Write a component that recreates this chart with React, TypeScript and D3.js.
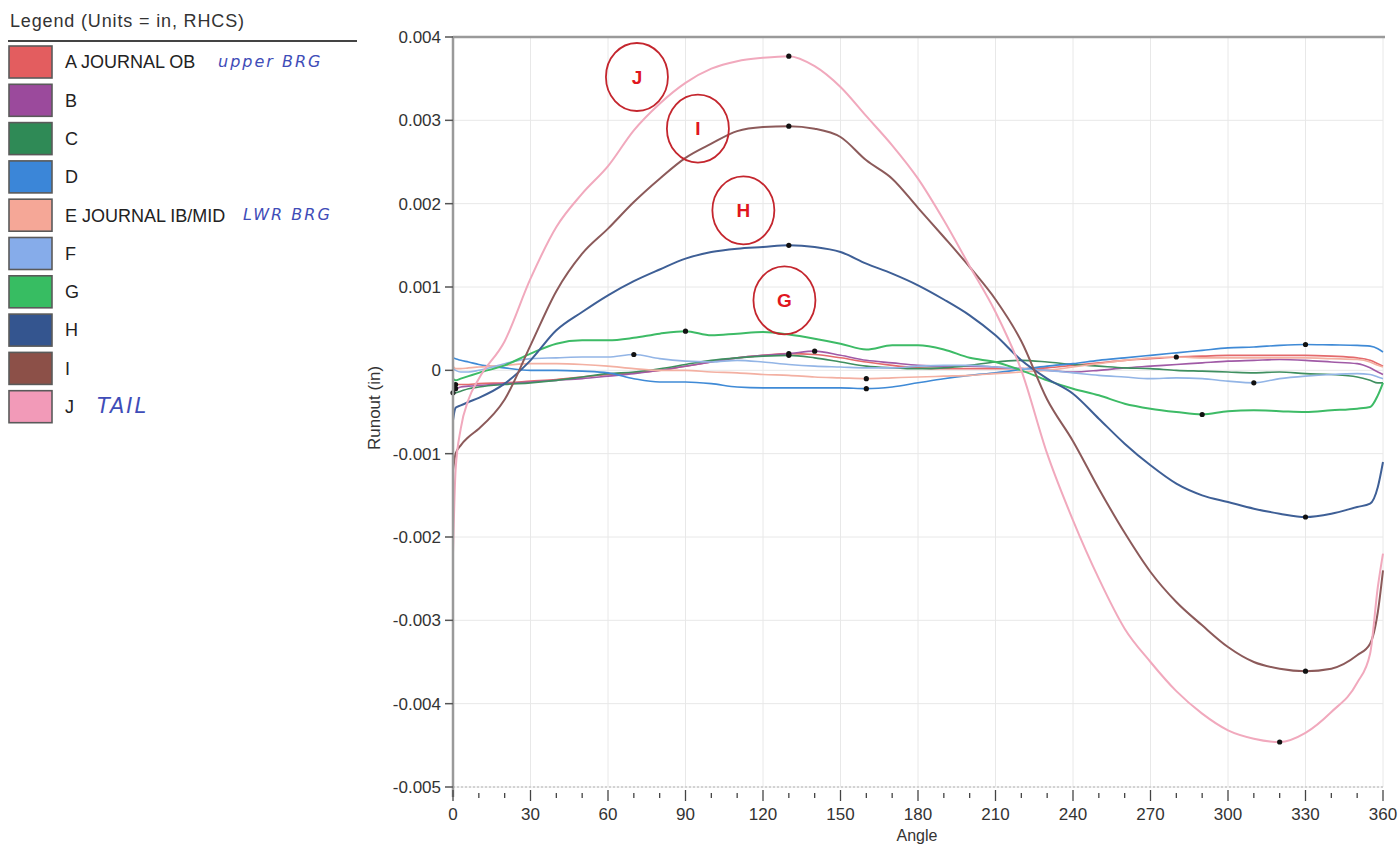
import React from 'react';
import * as d3 from 'd3';

// runout readings in thousandths of an inch (mils)
const angles = [0, 1, 3, 6, 10, 20, 30, 40, 50, 60, 70, 80, 90, 100, 110, 120, 130, 140, 150, 160, 170, 180,
  190, 200, 210, 220, 230, 240, 250, 260, 270, 280, 290, 300, 310, 320, 330, 340, 350, 355, 358, 360];

const seriesA = [-0.15, -0.17, -0.17, -0.17, -0.16, -0.15, -0.13, -0.11, -0.08, -0.05, -0.03, 0.0, 0.05, 0.1, 0.15, 0.18, 0.2, 0.19, 0.15, 0.1, 0.06, 0.03,
  0.02, 0.02, 0.02, 0.02, 0.03, 0.06, 0.09, 0.12, 0.14, 0.16, 0.17, 0.18, 0.18, 0.18, 0.18, 0.17, 0.15, 0.12, 0.08, 0.05];
const seriesB = [-0.2, -0.22, -0.2, -0.19, -0.18, -0.16, -0.14, -0.12, -0.1, -0.07, -0.04, 0.0, 0.05, 0.1, 0.15, 0.18, 0.2, 0.23, 0.18, 0.12, 0.09, 0.06,
  0.05, 0.05, 0.04, 0.02, 0.0, -0.02, 0.0, 0.03, 0.05, 0.07, 0.09, 0.11, 0.12, 0.13, 0.12, 0.1, 0.08, 0.03, -0.02, -0.05];
const seriesC = [-0.27, -0.27, -0.25, -0.22, -0.2, -0.17, -0.15, -0.12, -0.08, -0.04, -0.02, 0.02, 0.07, 0.12, 0.15, 0.17, 0.18, 0.15, 0.1, 0.05, 0.03, 0.02,
  0.03, 0.06, 0.1, 0.12, 0.1, 0.07, 0.05, 0.03, 0.02, 0.0, -0.01, -0.02, -0.03, -0.02, -0.04, -0.05, -0.08, -0.12, -0.15, -0.15];
const seriesD = [0.15, 0.14, 0.12, 0.1, 0.07, 0.03, 0.0, 0.0, -0.01, -0.03, -0.1, -0.14, -0.14, -0.16, -0.2, -0.21, -0.21, -0.21, -0.21, -0.22, -0.2, -0.15,
  -0.1, -0.06, -0.03, 0.01, 0.05, 0.08, 0.12, 0.15, 0.18, 0.21, 0.24, 0.27, 0.28, 0.3, 0.31, 0.305, 0.3, 0.29, 0.26, 0.22];
const seriesE = [0.05, 0.02, 0.02, 0.03, 0.04, 0.06, 0.08, 0.08, 0.07, 0.05, 0.02, 0.0, 0.0, -0.02, -0.03, -0.05, -0.06, -0.08, -0.09, -0.1, -0.09, -0.08,
  -0.07, -0.06, -0.04, -0.02, 0.0, 0.04, 0.08, 0.12, 0.15, 0.16, 0.15, 0.15, 0.15, 0.15, 0.15, 0.14, 0.13, 0.1, 0.06, 0.04];
const seriesF = [0.02, 0.0, -0.02, -0.02, 0.0, 0.08, 0.14, 0.15, 0.16, 0.16, 0.19, 0.14, 0.11, 0.1, 0.12, 0.1, 0.07, 0.05, 0.04, 0.03, 0.03, 0.05,
  0.06, 0.06, 0.04, 0.02, 0.0, -0.03, -0.06, -0.08, -0.1, -0.09, -0.1, -0.13, -0.15, -0.1, -0.07, -0.05, -0.04, -0.05, -0.08, -0.1];
const seriesG = [-0.1, -0.12, -0.1, -0.07, -0.03, 0.06, 0.2, 0.32, 0.36, 0.36, 0.39, 0.44, 0.47, 0.42, 0.44, 0.46, 0.43, 0.38, 0.32, 0.25, 0.3, 0.3,
  0.25, 0.15, 0.1, 0.0, -0.12, -0.22, -0.3, -0.4, -0.46, -0.5, -0.53, -0.49, -0.48, -0.49, -0.5, -0.48, -0.46, -0.44, -0.3, -0.15];
const seriesH = [-0.6, -0.45, -0.42, -0.38, -0.33, -0.16, 0.12, 0.48, 0.7, 0.9, 1.07, 1.21, 1.34, 1.42, 1.46, 1.48, 1.5, 1.48, 1.42, 1.28, 1.16, 1.02,
  0.85, 0.66, 0.42, 0.12, -0.1, -0.28, -0.58, -0.88, -1.14, -1.36, -1.5, -1.58, -1.66, -1.72, -1.76, -1.72, -1.64, -1.6, -1.4, -1.1];
const seriesI = [-1.2, -1.0, -0.9, -0.8, -0.7, -0.35, 0.3, 0.95, 1.4, 1.7, 2.02, 2.3, 2.55, 2.72, 2.87, 2.92, 2.93, 2.9, 2.8, 2.52, 2.3, 1.95,
  1.6, 1.24, 0.85, 0.35, -0.35, -0.85, -1.42, -1.95, -2.42, -2.78, -3.06, -3.32, -3.5, -3.58, -3.61, -3.58, -3.42, -3.28, -2.9, -2.4];
const seriesJ = [-2.2, -1.2, -0.7, -0.35, -0.1, 0.35, 1.1, 1.72, 2.12, 2.45, 2.88, 3.2, 3.45, 3.62, 3.71, 3.75, 3.77, 3.65, 3.4, 3.05, 2.7, 2.3,
  1.8, 1.25, 0.7, 0.0, -1.0, -1.8, -2.5, -3.1, -3.5, -3.85, -4.12, -4.32, -4.42, -4.46, -4.35, -4.1, -3.75, -3.4, -2.6, -2.2];

const names = ['A JOURNAL OB', 'B', 'C', 'D', 'E JOURNAL IB/MID', 'F', 'G', 'H', 'I', 'J'];
const swatchColors = ['#e35d5f', '#9b4a9c', '#2f8a56', '#3b86d8', '#f5a797', '#86acea', '#37bd62', '#34558f', '#8c5048', '#f29ab8'];
const lineColors = ['#e46a6c', '#a05aa6', '#3f8f60', '#3f8ad6', '#f3b0a2', '#93b5e6', '#3dbb66', '#3e5f96', '#8c5a5a', '#f1a9bd'];
const allSeries = [seriesA, seriesB, seriesC, seriesD, seriesE, seriesF, seriesG, seriesH, seriesI, seriesJ];

// handwritten notes next to the legend
const notes = [
  { row: 0, x: 218, text: 'upper BRG', size: 16 },
  { row: 4, x: 243, text: 'LWR BRG', size: 16 },
  { row: 9, x: 97, text: 'TAIL', size: 21 },
];

// red circled call-outs on the plot: [label, angle, mils]
const callouts: [string, number, number][] = [['J', 71.2, 3.52], ['I', 94.8, 2.9], ['H', 112.4, 1.92], ['G', 128.3, 0.84]];

const xTicks = d3.range(0, 361, 30);
const xMinor = d3.range(0, 361, 10);
const yTicks = d3.range(-5, 5, 1);

const W = 1399, H = 846;
const font = '"Liberation Sans", Arial, sans-serif';

export default function App() {
  const x = d3.scaleLinear().domain([0, 360]).range([453, 1383]);
  const y = d3.scaleLinear().domain([-5, 4]).range([787, 37]);

  const line = d3.line<number>()
    .x((d, i) => x(angles[i]))
    .y(d => y(d))
    .curve(d3.curveMonotoneX);

  const fmt = (v: number) => (v === 0 ? '0' : (v / 1000).toFixed(3));
  const rowTop = (i: number) => 46 + i * 38.3;

  return (
    <svg width={W} height={H} style={{ position: 'absolute', left: 0, top: 0, background: '#fff' }} fontFamily={font}>
      {/* legend */}
      <text x={10} y={27} fontSize={18} fill="#333" textLength={234}>Legend (Units = in, RHCS)</text>
      <line x1={8} x2={357} y1={41} y2={41} stroke="#444" strokeWidth={2} />
      {names.map((n, i) => (
        <g key={n}>
          <rect x={9} y={rowTop(i)} width={43} height={32} fill={swatchColors[i]} stroke="#5a5a5a" strokeWidth={1.6} />
          <text x={65} y={rowTop(i) + 16} dy="0.35em" fontSize={18} fill="#222">{n}</text>
        </g>
      ))}
      {notes.map(n => (
        <text key={n.text} x={n.x} y={rowTop(n.row) + 16} dy="0.3em" fontSize={n.size}
          fill="#3f4db8" fontStyle="italic" fontFamily='"DejaVu Sans", sans-serif' letterSpacing={2}>{n.text}</text>
      ))}

      {/* grid */}
      {xTicks.map(t => (
        <line key={'gx' + t} x1={x(t)} x2={x(t)} y1={37} y2={787} stroke="#e8e8e8" />
      ))}
      {yTicks.map(t => (
        <line key={'gy' + t} x1={453} x2={1383} y1={y(t)} y2={y(t)} stroke="#e8e8e8" />
      ))}

      {/* series */}
      {allSeries.map((s, i) => (
        <path key={names[i]} d={line(s) || ''} fill="none" stroke={lineColors[i]}
          strokeWidth={i >= 6 ? 2 : 1.6} />
      ))}
      {allSeries.map((s, i) => {
        const hi = d3.maxIndex(s), lo = d3.minIndex(s);
        return (
          <g key={'m' + i}>
            <circle cx={x(angles[hi])} cy={y(s[hi])} r={2.6} fill="#111" />
            <circle cx={x(angles[lo])} cy={y(s[lo])} r={2.6} fill="#111" />
          </g>
        );
      })}

      {/* call-outs */}
      {callouts.map(([lab, a, v]) => (
        <g key={lab} transform={`translate(${x(a)},${y(v)})`}>
          <ellipse rx={31} ry={34} fill="none" stroke="#c4262e" strokeWidth={1.8} />
          <text textAnchor="middle" dy="0.35em" fontSize={19} fontWeight="bold" fill="#e0161e">{lab}</text>
        </g>
      ))}

      {/* frame and axes */}
      <line x1={453} x2={1385} y1={37} y2={37} stroke="#9a9a9a" strokeWidth={2.5} />
      <line x1={453} x2={1383} y1={787} y2={787} stroke="#c8c8c8" strokeWidth={1.5} strokeDasharray="2 2" />
      <line x1={453} x2={453} y1={36} y2={797} stroke="#9a9a9a" strokeWidth={2.5} />
      {yTicks.map(t => (
        <g key={'ty' + t}>
          <line x1={445} x2={453} y1={y(t)} y2={y(t)} stroke="#555" strokeWidth={1.5} />
          <text x={441} y={y(t)} dy="0.35em" textAnchor="end" fontSize={17} fill="#333">{fmt(t)}</text>
        </g>
      ))}
      {xMinor.map(t => (
        t % 30 === 0
          ? <line key={'tx' + t} x1={x(t)} x2={x(t)} y1={790} y2={801} stroke="#444" strokeWidth={1.3} />
          : <line key={'tx' + t} x1={x(t)} x2={x(t)} y1={793} y2={798} stroke="#444" strokeWidth={1.3} />
      ))}
      {xTicks.map(t => (
        <text key={'lx' + t} x={x(t)} y={820} textAnchor="middle" fontSize={17} fill="#333">{t}</text>
      ))}
      <text x={917} y={841} textAnchor="middle" fontSize={16} fill="#333">Angle</text>
      <text transform="translate(380,408) rotate(-90)" textAnchor="middle" fontSize={17} fill="#333">Runout (in)</text>
    </svg>
  );
}
